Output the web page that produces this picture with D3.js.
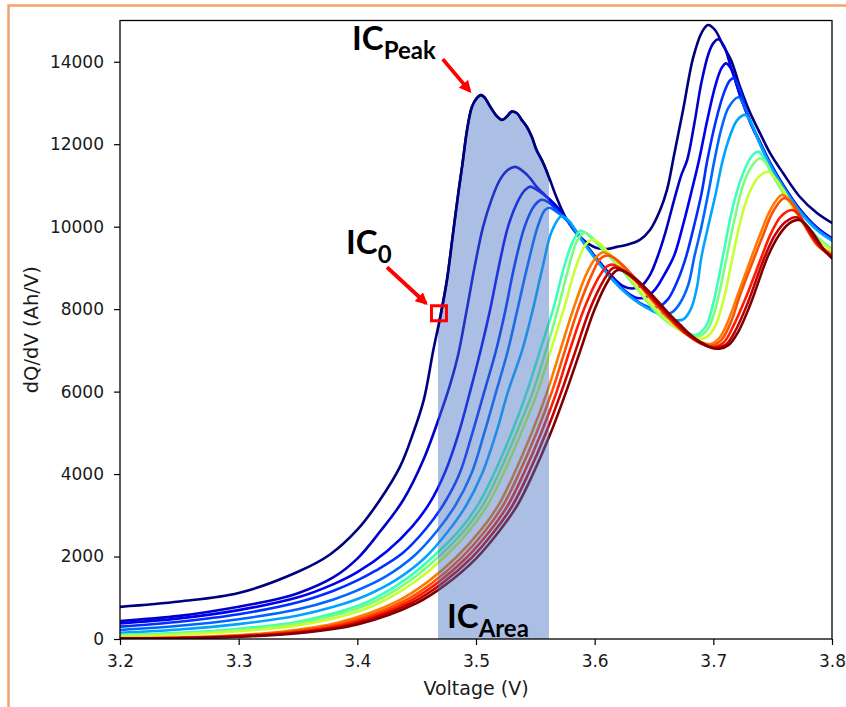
<!DOCTYPE html>
<html>
<head>
<meta charset="utf-8">
<script src="https://cdn.jsdelivr.net/npm/d3@7"></script>
<style>
  html, body { margin: 0; padding: 0; background: #ffffff; }
  svg { display: block; }
</style>
</head>
<body>
<svg id="chart" width="846" height="707"></svg>
<script>
// ---- axis ticks ----
const voltageTicks = [3.2, 3.3, 3.4, 3.5, 3.6, 3.7, 3.8];
const dqdvTicks = [0, 2000, 4000, 6000, 8000, 10000, 12000, 14000];

// ---- incremental capacity curves, [voltage (V), dQ/dV (Ah/V)] ----
const cycle01 = [[3.20,780],[3.25,910],[3.30,1115],[3.35,1630],[3.377,2050],[3.40,2650],[3.419,3370],[3.436,4180],[3.447,4990],[3.456,5800],[3.464,7000],[3.4705,7900],[3.4755,8700],[3.4805,9800],[3.4855,10900],[3.4885,11500],[3.4925,12350],[3.4965,12900],[3.5005,13110],[3.504,13190],[3.507,13140],[3.512,12910],[3.5175,12680],[3.522,12590],[3.526,12670],[3.530,12790],[3.5345,12750],[3.5385,12590],[3.5427,12430],[3.547,12180],[3.551,11860],[3.5567,11540],[3.5624,11130],[3.568,10700],[3.5767,10160],[3.5876,9750],[3.602,9480],[3.6104,9460],[3.6188,9510],[3.6273,9560],[3.638,9680],[3.6466,9920],[3.6551,10400],[3.661,10900],[3.667,11750],[3.6745,12830],[3.683,14100],[3.6904,14720],[3.6955,14890],[3.7014,14770],[3.7081,14400],[3.7149,14040],[3.7225,13390],[3.731,12760],[3.7393,12270],[3.7477,11790],[3.7587,11300],[3.773,10720],[3.7873,10330],[3.80,10090]];
const cycle02 = [[3.20,436],[3.25,560],[3.30,783],[3.337,1000],[3.35,1108],[3.38,1500],[3.40,1950],[3.419,2600],[3.4387,3370],[3.4556,4340],[3.4711,5550],[3.479,6250],[3.485,6900],[3.492,7950],[3.499,9050],[3.506,10000],[3.513,10650],[3.520,11130],[3.527,11380],[3.533,11450],[3.539,11360],[3.5455,11180],[3.551,10970],[3.5595,10730],[3.568,10490],[3.5767,10170],[3.5876,9760],[3.6017,9230],[3.6157,8760],[3.624,8560],[3.632,8500],[3.640,8580],[3.647,8850],[3.653,9270],[3.660,9900],[3.667,10650],[3.673,11250],[3.678,11620],[3.684,12500],[3.690,13500],[3.696,14200],[3.700,14450],[3.7042,14545],[3.709,14380],[3.715,13850],[3.7225,13200],[3.731,12560],[3.7393,12050],[3.7477,11560],[3.7587,11020],[3.773,10420],[3.7873,9980],[3.80,9720]];
const cycle03 = [[3.20,380],[3.25,500],[3.30,700],[3.35,1010],[3.38,1330],[3.40,1620],[3.425,2130],[3.446,2720],[3.461,3300],[3.474,4050],[3.486,5050],[3.495,6000],[3.504,7010],[3.512,8000],[3.519,9000],[3.527,10000],[3.535,10600],[3.541,10880],[3.5455,10970],[3.551,10900],[3.557,10780],[3.5624,10640],[3.5767,10170],[3.5876,9760],[3.6017,9210],[3.6157,8730],[3.627,8410],[3.636,8270],[3.643,8290],[3.651,8480],[3.659,8850],[3.667,9300],[3.675,10100],[3.682,10900],[3.688,11620],[3.695,12600],[3.702,13450],[3.707,13850],[3.7107,13960],[3.715,13830],[3.7225,13180],[3.731,12540],[3.7393,12040],[3.7477,11540],[3.7587,11000],[3.773,10400],[3.7873,9960],[3.80,9700]];
const cycle04 = [[3.20,300],[3.25,420],[3.30,600],[3.35,890],[3.38,1170],[3.40,1420],[3.415,1650],[3.438,2080],[3.458,2680],[3.473,3280],[3.486,4000],[3.497,5000],[3.507,6000],[3.517,7010],[3.525,8000],[3.532,9000],[3.541,10000],[3.549,10500],[3.555,10650],[3.5605,10600],[3.5676,10420],[3.5767,10160],[3.5876,9750],[3.6017,9200],[3.6157,8710],[3.627,8390],[3.638,8150],[3.647,8040],[3.654,8060],[3.662,8250],[3.670,8700],[3.677,9270],[3.684,10050],[3.690,10800],[3.695,11620],[3.702,12550],[3.709,13250],[3.714,13550],[3.7174,13600],[3.7225,13300],[3.731,12540],[3.7393,12030],[3.7477,11530],[3.7587,10990],[3.773,10390],[3.7873,9950],[3.80,9690]];
const cycle05 = [[3.20,220],[3.25,320],[3.30,480],[3.35,720],[3.38,960],[3.40,1180],[3.423,1500],[3.448,2020],[3.468,2650],[3.483,3260],[3.496,4000],[3.507,5000],[3.517,6000],[3.527,7010],[3.535,8000],[3.543,9000],[3.552,10000],[3.558,10400],[3.562,10460],[3.566,10400],[3.5767,10150],[3.5876,9740],[3.6017,9190],[3.6157,8700],[3.627,8380],[3.638,8140],[3.650,7950],[3.658,7880],[3.665,7920],[3.672,8150],[3.679,8600],[3.684,9270],[3.690,10000],[3.696,10850],[3.701,11620],[3.707,12400],[3.713,12900],[3.7213,13140],[3.727,12850],[3.731,12560],[3.7393,12020],[3.7477,11520],[3.7587,10980],[3.773,10380],[3.7873,9940],[3.80,9680]];
const cycle06 = [[3.20,150],[3.25,230],[3.30,360],[3.35,570],[3.38,780],[3.407,1050],[3.432,1420],[3.457,1970],[3.477,2630],[3.492,3250],[3.505,4000],[3.517,5000],[3.527,6000],[3.539,7010],[3.548,8000],[3.556,9000],[3.564,9900],[3.572,10250],[3.578,10150],[3.5876,9740],[3.6017,9180],[3.6157,8690],[3.627,8370],[3.638,8130],[3.650,7940],[3.660,7800],[3.668,7730],[3.675,7760],[3.681,8000],[3.686,8500],[3.690,9270],[3.696,10050],[3.702,10800],[3.708,11620],[3.714,12200],[3.720,12580],[3.727,12710],[3.733,12450],[3.7393,12000],[3.7477,11500],[3.7587,10960],[3.773,10360],[3.7873,9920],[3.80,9660]];
const cycle07 = [[3.20,100],[3.25,150],[3.30,250],[3.35,420],[3.40,800],[3.417,1020],[3.442,1470],[3.467,2080],[3.487,2670],[3.502,3270],[3.515,4000],[3.530,5000],[3.543,6000],[3.554,7000],[3.565,8000],[3.574,9000],[3.581,9600],[3.588,9900],[3.594,9820],[3.60,9650],[3.61,9350],[3.62,9050],[3.63,8700],[3.64,8350],[3.65,8000],[3.66,7720],[3.67,7530],[3.679,7410],[3.686,7380],[3.694,7600],[3.700,8150],[3.708,9270],[3.715,10300],[3.722,11050],[3.729,11550],[3.734,11760],[3.738,11820],[3.743,11650],[3.748,11350],[3.7587,10850],[3.773,10250],[3.7873,9750],[3.80,9460]];
const cycle08 = [[3.20,80],[3.25,130],[3.30,220],[3.35,380],[3.40,740],[3.421,1000],[3.446,1450],[3.471,2060],[3.491,2660],[3.506,3260],[3.519,4000],[3.534,5000],[3.548,6000],[3.559,7000],[3.569,8000],[3.578,9000],[3.585,9650],[3.591,9850],[3.597,9760],[3.605,9500],[3.615,9200],[3.625,8880],[3.635,8520],[3.645,8150],[3.655,7850],[3.665,7620],[3.675,7450],[3.682,7360],[3.688,7340],[3.696,7550],[3.703,8150],[3.7113,9270],[3.718,10200],[3.725,11000],[3.732,11450],[3.7393,11660],[3.744,11560],[3.750,11250],[3.7587,10830],[3.773,10230],[3.7873,9730],[3.80,9440]];
const cycle09 = [[3.20,60],[3.25,110],[3.30,190],[3.35,330],[3.40,660],[3.425,970],[3.45,1420],[3.475,2030],[3.495,2650],[3.51,3260],[3.523,4000],[3.538,5000],[3.552,6000],[3.563,7000],[3.574,8000],[3.584,9000],[3.592,9550],[3.598,9680],[3.604,9600],[3.612,9350],[3.622,9030],[3.632,8680],[3.642,8300],[3.652,7980],[3.662,7700],[3.672,7480],[3.682,7330],[3.692,7290],[3.700,7500],[3.708,8150],[3.7163,9270],[3.723,10150],[3.730,10800],[3.738,11200],[3.7463,11330],[3.752,11180],[3.7587,10900],[3.773,10200],[3.7873,9700],[3.80,9420]];
const cycle10 = [[3.20,22],[3.234,30],[3.284,70],[3.334,170],[3.384,400],[3.434,920],[3.459,1380],[3.484,2000],[3.504,2640],[3.519,3250],[3.532,4000],[3.547,5000],[3.56,6000],[3.571,7000],[3.582,8000],[3.593,8850],[3.601,9250],[3.607,9380],[3.612,9320],[3.62,9150],[3.63,8850],[3.64,8500],[3.65,8150],[3.66,7850],[3.67,7560],[3.68,7350],[3.69,7200],[3.697,7150],[3.705,7300],[3.713,7750],[3.72,8300],[3.7323,9270],[3.74,9850],[3.748,10400],[3.7576,10770],[3.764,10650],[3.773,10200],[3.7873,9600],[3.80,9340]];
const cycle11 = [[3.20,16],[3.238,25],[3.288,65],[3.338,160],[3.388,380],[3.438,900],[3.463,1360],[3.488,1980],[3.508,2630],[3.523,3250],[3.536,4000],[3.551,5000],[3.564,6000],[3.575,7000],[3.586,8000],[3.597,8800],[3.605,9230],[3.611,9300],[3.616,9250],[3.625,9030],[3.635,8720],[3.645,8380],[3.655,8030],[3.665,7730],[3.675,7460],[3.685,7260],[3.693,7150],[3.699,7120],[3.707,7260],[3.715,7700],[3.722,8300],[3.7348,9270],[3.742,9800],[3.750,10350],[3.7595,10690],[3.766,10580],[3.775,10150],[3.7873,9560],[3.80,9310]];
const cycle12 = [[3.20,12],[3.242,22],[3.292,60],[3.342,150],[3.392,370],[3.442,890],[3.467,1350],[3.492,1970],[3.512,2630],[3.527,3250],[3.54,4000],[3.555,5000],[3.568,6000],[3.579,7000],[3.591,8000],[3.603,8750],[3.610,9030],[3.614,9080],[3.618,9050],[3.626,8900],[3.636,8650],[3.646,8330],[3.656,8000],[3.666,7700],[3.676,7420],[3.686,7220],[3.694,7110],[3.701,7080],[3.709,7200],[3.717,7600],[3.727,8250],[3.7407,9270],[3.748,9800],[3.757,10250],[3.766,10405],[3.772,10300],[3.780,9900],[3.79,9500],[3.80,9280]];
const cycle13 = [[3.20,10],[3.246,20],[3.296,57],[3.346,145],[3.396,360],[3.446,880],[3.471,1340],[3.496,1960],[3.516,2630],[3.531,3250],[3.544,4000],[3.559,5000],[3.572,6000],[3.584,7000],[3.596,8000],[3.608,8720],[3.614,8970],[3.617,9010],[3.621,8980],[3.629,8830],[3.639,8580],[3.649,8270],[3.659,7950],[3.669,7650],[3.679,7380],[3.689,7180],[3.697,7080],[3.703,7060],[3.711,7150],[3.719,7500],[3.729,8150],[3.7433,9270],[3.752,9800],[3.761,10120],[3.770,10228],[3.776,10100],[3.783,9800],[3.792,9470],[3.80,9260]];
const cycle14 = [[3.20,8],[3.25,20],[3.30,55],[3.35,140],[3.40,350],[3.45,870],[3.475,1330],[3.50,1950],[3.52,2630],[3.535,3250],[3.548,4000],[3.563,5000],[3.576,6000],[3.588,7000],[3.60,8000],[3.612,8720],[3.618,8930],[3.620,8950],[3.624,8930],[3.632,8790],[3.642,8540],[3.652,8230],[3.662,7910],[3.672,7620],[3.682,7350],[3.692,7150],[3.699,7060],[3.705,7040],[3.713,7130],[3.721,7450],[3.731,8100],[3.7458,9270],[3.755,9780],[3.764,10080],[3.7724,10162],[3.778,10050],[3.785,9800],[3.793,9450],[3.80,9230]];

const cycles = [cycle01, cycle02, cycle03, cycle04, cycle05, cycle06, cycle07,
                cycle08, cycle09, cycle10, cycle11, cycle12, cycle13, cycle14];

// jet-style colour per cycle, from first (navy) to last (maroon)
const cycleColors = ["#00007f", "#0000c8", "#0000f0", "#0030ff", "#0066ff", "#00a4ff",
                     "#3cffbb", "#7bff7b", "#c8ff30", "#ff7b00", "#ff5000", "#ff1c00",
                     "#c40000", "#7f0000"];

// feature markers on the first cycle
const icAreaWindow = [3.468, 3.5615];   // voltage window integrated for IC_Area
const icPeakPoint = [3.504, 13190];     // IC_Peak
const ic0Point = [3.4688, 7900];        // IC_0 at the window start

// ---- layout ----
const W = 846, H = 707;
const margin = { left: 120, top: 20.5, right: W - 832, bottom: H - 639 };
const svg = d3.select("#chart");

const x = d3.scaleLinear().domain([3.2, 3.8]).range([margin.left, W - margin.right]);
const y = d3.scaleLinear().domain([0, 15000]).range([H - margin.bottom, margin.top]);

// slide frame (orange rule along top and left)
svg.append("path")
  .attr("d", `M8.5,${H} V5.5 H${W}`)
  .attr("fill", "none")
  .attr("stroke", "#f4a26c")
  .attr("stroke-width", 2.5);

const plot = svg.append("g");
plot.append("clipPath").attr("id", "plotClip")
  .append("rect")
  .attr("x", x(3.2)).attr("y", y(15000))
  .attr("width", x(3.8) - x(3.2)).attr("height", y(0) - y(15000));

plot.append("clipPath").attr("id", "areaClip")
  .append("rect")
  .attr("x", x(icAreaWindow[0])).attr("y", y(15000))
  .attr("width", x(icAreaWindow[1]) - x(icAreaWindow[0]))
  .attr("height", y(0) - y(15000));

const line = d3.line()
  .x(d => x(d[0])).y(d => y(d[1]))
  .curve(d3.curveCatmullRom.alpha(0.5));

const area = d3.area()
  .x(d => x(d[0])).y0(y(0)).y1(d => y(d[1]))
  .curve(d3.curveCatmullRom.alpha(0.5));

const curves = plot.append("g").attr("clip-path", "url(#plotClip)");
cycles.forEach((c, i) => {
  curves.append("path")
    .datum(c)
    .attr("d", line)
    .attr("fill", "none")
    .attr("stroke", cycleColors[i])
    .attr("stroke-width", 2.6)
    .attr("stroke-linejoin", "round")
    .attr("stroke-linecap", "round");
});

// shaded IC area under the first cycle
const shade = plot.append("g").attr("clip-path", "url(#areaClip)");
shade.append("path")
  .datum(cycle01)
  .attr("d", area)
  .attr("fill", "#4472c4")
  .attr("fill-opacity", 0.45);
shade.append("path")
  .datum(cycle01)
  .attr("d", line)
  .attr("fill", "none")
  .attr("stroke", cycleColors[0])
  .attr("stroke-width", 2.6);

// ---- axes ----
const tickFont = "'DejaVu Sans', sans-serif";

const xAxis = svg.append("g")
  .attr("transform", `translate(0,${y(0)})`)
  .call(d3.axisBottom(x).tickValues(voltageTicks).tickSize(6).tickPadding(4)
        .tickFormat(d3.format(".1f")));
const yAxis = svg.append("g")
  .attr("transform", `translate(${x(3.2)},0)`)
  .call(d3.axisLeft(y).tickValues(dqdvTicks).tickSize(6).tickPadding(10)
        .tickFormat(d3.format("d")));

[xAxis, yAxis].forEach(a => {
  a.select(".domain").remove();
  a.selectAll(".tick line").attr("stroke", "#000").attr("stroke-width", 1.2);
  a.selectAll(".tick text")
    .attr("fill", "#1a1a1a")
    .style("font-family", tickFont)
    .style("font-size", "17px");
});
xAxis.selectAll(".tick text").attr("y", 28).attr("dy", 0);

// axes frame
svg.append("rect")
  .attr("x", x(3.2)).attr("y", y(15000))
  .attr("width", x(3.8) - x(3.2)).attr("height", y(0) - y(15000))
  .attr("fill", "none").attr("stroke", "#000").attr("stroke-width", 1.3);

svg.append("text")
  .attr("x", (x(3.2) + x(3.8)) / 2).attr("y", 695)
  .attr("text-anchor", "middle")
  .attr("fill", "#1a1a1a")
  .style("font-family", tickFont).style("font-size", "19px")
  .text("Voltage (V)");

svg.append("text")
  .attr("transform", `translate(38,${(y(0) + y(15000)) / 2}) rotate(-90)`)
  .attr("text-anchor", "middle")
  .attr("fill", "#1a1a1a")
  .style("font-family", tickFont).style("font-size", "19.5px")
  .text("dQ/dV (Ah/V)");

// ---- annotations ----
const noteFont = "Lato, 'Open Sans', sans-serif";
function label(xPos, yPos, main, sub) {
  const t = svg.append("text")
    .attr("x", xPos).attr("y", yPos)
    .attr("fill", "#000")
    .style("font-family", noteFont).style("font-weight", "bold");
  t.append("tspan").style("font-size", "33px").text(main);
  t.append("tspan").attr("dy", 9).style("font-size", "24px").text(sub);
}
label(352, 50, "IC", "Peak");
label(346, 254, "IC", "0");
label(447, 628, "IC", "Area");

svg.append("defs").append("marker")
  .attr("id", "redHead")
  .attr("viewBox", "0 0 10 10")
  .attr("refX", 8).attr("refY", 5)
  .attr("markerWidth", 3.2).attr("markerHeight", 3.2)
  .attr("orient", "auto")
  .append("path").attr("d", "M0,0 L10,5 L0,10 Z").attr("fill", "#ff0000");

function arrow(x1, y1, x2, y2) {
  svg.append("line")
    .attr("x1", x1).attr("y1", y1).attr("x2", x2).attr("y2", y2)
    .attr("stroke", "#ff0000").attr("stroke-width", 3.8)
    .attr("marker-end", "url(#redHead)");
}
const px = x(icPeakPoint[0]), py = y(icPeakPoint[1]);
arrow(px - 38, py - 36, px - 11, py - 4);

const bx = x(ic0Point[0]), by = y(ic0Point[1]);
arrow(bx - 52, by - 46, bx - 13, by - 10);
svg.append("rect")
  .attr("x", bx - 7.5).attr("y", by - 7.5)
  .attr("width", 15).attr("height", 15)
  .attr("fill", "none").attr("stroke", "#ff0000").attr("stroke-width", 3);
</script>
</body>
</html>
